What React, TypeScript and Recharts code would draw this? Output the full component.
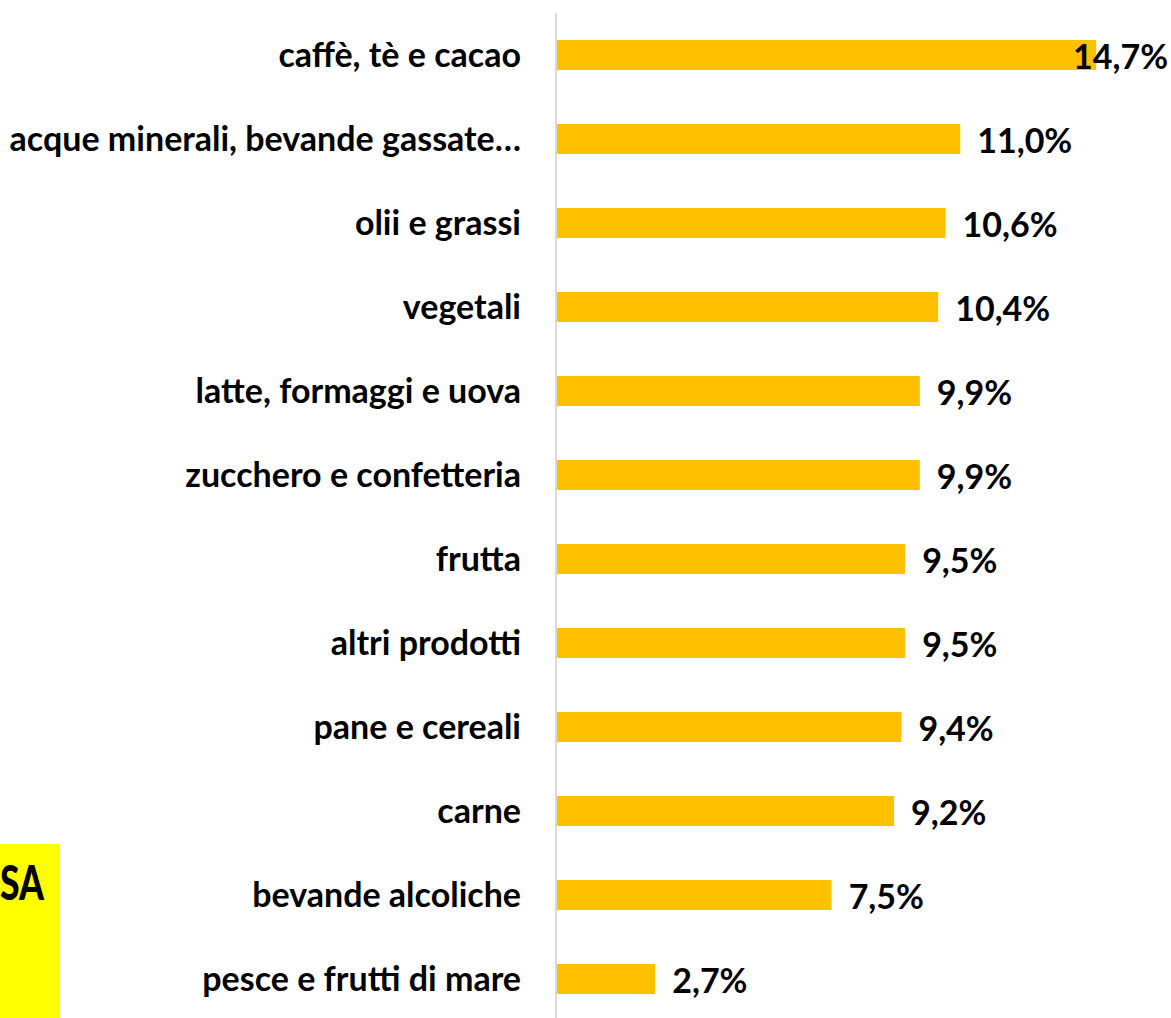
import { BarChart, Bar, XAxis, YAxis, LabelList } from "recharts";

const categories = [
  "caffè, tè e cacao",
  "acque minerali, bevande gassate…",
  "olii e grassi",
  "vegetali",
  "latte, formaggi e uova",
  "zucchero e confetteria",
  "frutta",
  "altri prodotti",
  "pane e cereali",
  "carne",
  "bevande alcoliche",
  "pesce e frutti di mare",
];
const values = [14.7, 11.0, 10.6, 10.4, 9.9, 9.9, 9.5, 9.5, 9.4, 9.2, 7.5, 2.7];

const data = categories.map((name, i) => ({ name, value: values[i] }));

const W = 1171;
const FONT = "Lato, 'Open Sans', sans-serif";
const FS = 34;

function fmtPct(v: number) {
  return `${v.toFixed(1).replace(".", ",")}%`;
}

function ValueLabel(props: any) {
  const { x, y, width, height, value } = props;
  const end = x + width;
  const text = fmtPct(value);
  const est = text.length * FS * 0.56;
  const fits = end + 17 + est < W - 3;
  return (
    <text
      x={fits ? end + 17 : W - 3}
      y={y + height / 2}
      textAnchor={fits ? "start" : "end"}
      dominantBaseline="central"
      fontFamily={FONT}
      fontWeight={700}
      fontSize={FS}
      fill="#000"
    >
      {text}
    </text>
  );
}

export default function App() {
  return (
    <div
      style={{
        position: "absolute",
        left: 0,
        top: 0,
        width: W,
        height: 1018,
        overflow: "hidden",
        background: "#fff",
      }}
    >
      <BarChart
        layout="vertical"
        width={W}
        height={1030}
        data={data}
        margin={{ top: 13, right: 27, left: 0, bottom: 9 }}
        barCategoryGap={0}
      >
        <XAxis type="number" domain={[0, 16]} hide />
        <YAxis
          type="category"
          dataKey="name"
          width={556}
          tickLine={false}
          tickSize={0}
          tickMargin={35}
          axisLine={{ stroke: "#d9d9d9", strokeWidth: 2 }}
          interval={0}
          tick={{ fontFamily: FONT, fontWeight: 700, fontSize: FS, fill: "#000" }}
        />
        <Bar dataKey="value" fill="#FFC000" barSize={30} isAnimationActive={false}>
          <LabelList dataKey="value" content={<ValueLabel />} />
        </Bar>
      </BarChart>
      <div
        style={{
          position: "absolute",
          left: 0,
          top: 844,
          width: 60,
          height: 174,
          background: "#FFFF00",
        }}
      >
        <div
          style={{
            position: "absolute",
            left: 0,
            top: 8,
            fontFamily: FONT,
            fontWeight: 900,
            fontSize: 48,
            lineHeight: "60px",
            color: "#000",
            whiteSpace: "nowrap",
            transform: "scaleX(0.74)",
            transformOrigin: "left center",
          }}
        >
          SA
        </div>
      </div>
    </div>
  );
}
